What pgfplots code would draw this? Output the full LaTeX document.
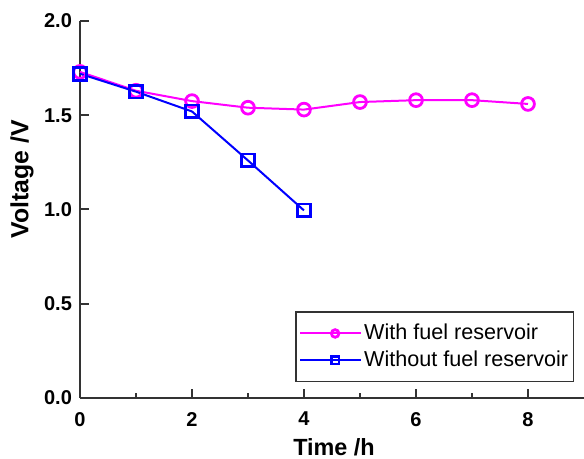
\documentclass[border=0pt]{standalone}
\usepackage{pgfplots}
\pgfplotsset{compat=1.18}
\usetikzlibrary{calc}
\usepackage{fontspec}
\setmainfont{Liberation Sans}

\definecolor{mag}{RGB}{255,0,255}
\definecolor{blu}{RGB}{0,0,255}
\definecolor{axgray}{RGB}{51,51,51}

\begin{document}
\begin{tikzpicture}
\begin{axis}[
  scale only axis,
  width=252pt, height=188.5pt,
  xmin=0, xmax=9, ymin=0, ymax=2,
  axis x line=bottom, axis y line=left,
  axis line style={-, line width=1pt, axgray},
  tick align=inside,
  xtick={0,2,4,6,8}, minor xtick={1,3,5,7},
  ytick={0,0.5,1,1.5,2},
  major tick length=4.5pt, minor tick length=2.3pt,
  tick style={line width=1pt, axgray},
  /pgf/number format/assume math mode=true,
  /pgf/number format/fixed, /pgf/number format/fixed zerofill,
  yticklabel style={/pgf/number format/precision=1, font=\bfseries\fontsize{10}{12}\selectfont, xshift=-0.5pt},
  xticklabel style={/pgf/number format/precision=0, font=\bfseries\fontsize{10}{12}\selectfont, yshift=-3.5pt},
  xlabel={Time /h}, ylabel={Voltage /V},
  xlabel style={font=\bfseries\fontsize{11.7}{14}\selectfont, at={(axis description cs:0.504,-0.13)}, anchor=center},
  ylabel style={font=\bfseries\fontsize{12.4}{14}\selectfont, at={(axis description cs:-0.115,0.58)}, anchor=center},
  clip=false,
  legend style={at={(axis description cs:0.98,0.042)}, anchor=south east,
    draw=axgray, line width=0.7pt, font=\fontsize{10.8}{12.5}\selectfont,
    nodes={inner xsep=1pt},
    row sep=0pt, inner xsep=1.5pt, inner ysep=4pt},
  legend cell align=left,
  legend image code/.code={
    \path (-5.5pt,0pt) -- (25pt,0pt);
    \draw[#1, mark=none, line width=0.8pt] (0pt,0pt) -- (24pt,0pt);
    \draw[#1, mark size=1.9pt, line width=0.6pt] plot coordinates {(12pt,0pt)};
  },
]
\coordinate (ll) at (rel axis cs:0,0);
\coordinate (ur) at (rel axis cs:1,1);
\addplot[mag, line width=1pt, mark=o, mark size=3.2pt,
  mark options={fill=white, line width=1.4pt, solid}]
  coordinates {(0,1.73)(1,1.63)(2,1.575)(3,1.54)(4,1.53)(5,1.57)(6,1.58)(7,1.58)(8,1.56)};
\addlegendentry{With fuel reservoir}
\addplot[blu, line width=1pt, mark=square, mark size=3.2pt,
  mark options={fill=white, line width=1.4pt, solid}]
  coordinates {(0,1.72)(1,1.625)(2,1.52)(3,1.26)(4,0.995)};
\addlegendentry{Without fuel reservoir}
\end{axis}
\pgfresetboundingbox
\useasboundingbox ($(ll)+(-40pt,-30.5pt)$) rectangle ($(ur)+(0pt,10.5pt)$);
\end{tikzpicture}
\end{document}
